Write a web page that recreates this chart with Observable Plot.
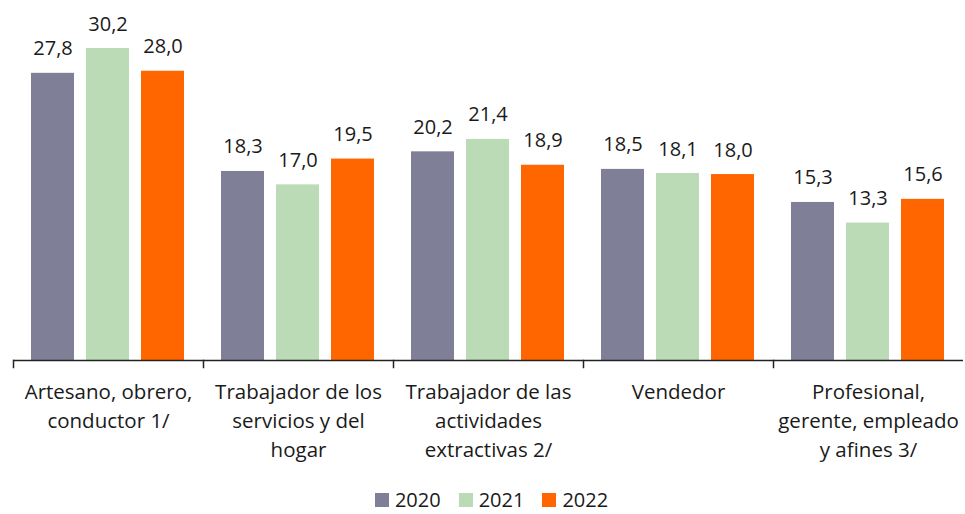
<!DOCTYPE html>
<html>
<head>
<meta charset="utf-8">
<script src="https://cdn.jsdelivr.net/npm/d3@7"></script>
<script src="https://cdn.jsdelivr.net/npm/@observablehq/plot@0.6"></script>
<style>
  html, body { margin: 0; padding: 0; background: #fff; }
  body { width: 965px; height: 514px; overflow: hidden; font-family: "Open Sans", sans-serif; }
  #chart svg { display: block; }
  #legend { box-sizing: border-box; display: flex; justify-content: center; align-items: center; gap: 18px; height: 34px; padding-top: 6px; padding-left: 18px; font-size: 20px; line-height: 24px; color: #1a1a1a; }
  #legend .item { display: flex; align-items: center; gap: 6px; }
  #legend .sw { width: 14px; height: 14px; display: inline-block; }
</style>
</head>
<body>
<div id="chart"></div>
<div id="legend"></div>
<script>
const categories = [
  "Artesano, obrero,\nconductor 1/",
  "Trabajador de los\nservicios y del\nhogar",
  "Trabajador de las\nactividades\nextractivas 2/",
  "Vendedor",
  "Profesional,\ngerente, empleado\ny afines 3/"
];
const years = ["2020", "2021", "2022"];
const colors = ["#7f8097", "#badbb6", "#ff6600"];
const values2020 = [27.8, 18.3, 20.2, 18.5, 15.3];
const values2021 = [30.2, 17.0, 21.4, 18.1, 13.3];
const values2022 = [28.0, 19.5, 18.9, 18.0, 15.6];

const series = [values2020, values2021, values2022];
const data = [];
categories.forEach((c, i) => {
  years.forEach((y, j) => data.push({category: c, year: y, value: series[j][i]}));
});

const fmt = v => v.toFixed(1).replace(".", ",");

const chart = Plot.plot({
  width: 965,
  height: 480,
  marginTop: 0,
  marginLeft: 11,
  marginRight: 0,
  marginBottom: 120,
  style: {fontFamily: "Open Sans, sans-serif", fontSize: "20px", color: "#1a1a1a"},
  fx: {domain: categories, padding: 0, label: null},
  x: {domain: years, paddingInner: 0.214, paddingOuter: 0.31, axis: null},
  y: {domain: [0, 34.85], axis: null},
  color: {domain: years, range: colors},
  marks: [
    Plot.barY(data, {fx: "category", x: "year", y: "value", fill: "year"}),
    Plot.text(data, {fx: "category", x: "year", y: "value", text: d => fmt(d.value), dy: -18, lineAnchor: "bottom", fontSize: 20, fill: "#1a1a1a"}),
    Plot.ruleY([0], {stroke: "#222", strokeWidth: 1.5}),
    Plot.frame({anchor: "left", insetTop: 360, insetBottom: -7, stroke: "#222", strokeWidth: 1.5}),
    Plot.axisFx({anchor: "bottom", tickSize: 0, tickPadding: 18, label: null, fontSize: 20.5, lineHeight: 1.42, fill: "#1a1a1a"})
  ]
});
document.getElementById("chart").appendChild(chart);

const legend = document.getElementById("legend");
years.forEach((y, j) => {
  const item = document.createElement("div");
  item.className = "item";
  const sw = document.createElement("span");
  sw.className = "sw";
  sw.style.background = colors[j];
  const t = document.createElement("span");
  t.textContent = y;
  item.appendChild(sw);
  item.appendChild(t);
  legend.appendChild(item);
});
</script>
</body>
</html>
